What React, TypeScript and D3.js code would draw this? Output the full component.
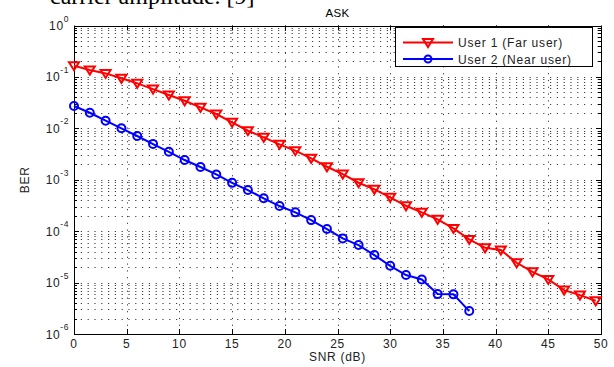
import * as d3 from "d3";

// SNR steps (dB) and BER for each user
const snrFar = [
  0, 1.5, 3, 4.5, 6, 7.5, 9, 10.5, 12, 13.5, 15, 16.5, 18, 19.5, 21, 22.5, 24,
  25.5, 27, 28.5, 30, 31.5, 33, 34.5, 36, 37.5, 39, 40.5, 42, 43.5, 45, 46.5,
  48, 49.5,
];
const berFar = [
  0.165, 0.136, 0.117, 0.094, 0.075, 0.058, 0.0445, 0.0344, 0.0256, 0.019,
  0.0131, 0.00898, 0.00668, 0.00488, 0.00367, 0.00261, 0.00179, 0.00129,
  0.000875, 0.00065, 0.000455, 0.000312, 0.000232, 0.00017, 0.000113, 6.92e-5,
  4.75e-5, 4.29e-5, 2.43e-5, 1.62e-5, 1.15e-5, 7.14e-6, 5.71e-6, 4.42e-6,
];
const snrNear = [
  0, 1.5, 3, 4.5, 6, 7.5, 9, 10.5, 12, 13.5, 15, 16.5, 18, 19.5, 21, 22.5, 24,
  25.5, 27, 28.5, 30, 31.5, 33, 34.5, 36, 37.5,
];
const berNear = [
  0.0272, 0.0201, 0.0141, 0.01, 0.0071, 0.00495, 0.0035, 0.00242, 0.00177,
  0.00127, 0.00087, 0.00063, 0.000435, 0.000308, 0.000232, 0.000164, 0.00011,
  7.24e-5, 5.37e-5, 3.43e-5, 2.12e-5, 1.4e-5, 1.15e-5, 5.97e-6, 5.9e-6, 2.79e-6,
];

const xTicks = [0, 5, 10, 15, 20, 25, 30, 35, 40, 45, 50];
const yExponents = [0, -1, -2, -3, -4, -5, -6];
const legendLabels = ["User 1 (Far user)", "User 2 (Near user)"];

const W = 614;
const H = 367;
const left = 74;
const right = 601;
const top = 25.5;
const bottom = 334;

const font = "'Liberation Sans', Arial, sans-serif";
const dots = "1.2,5.6";

function tri(cx: number, cy: number) {
  return `M${cx - 5},${cy - 3.5} L${cx + 5},${cy - 3.5} L${cx},${cy + 4.5} Z`;
}

export default function App() {
  const x = d3.scaleLinear().domain([0, 50]).range([left, right]);
  const y = d3.scaleLog().domain([1e-6, 1]).range([bottom, top]);

  const far = snrFar.map((s, i) => [x(s), y(berFar[i])] as [number, number]);
  const near = snrNear.map((s, i) => [x(s), y(berNear[i])] as [number, number]);
  const line = d3.line();

  // minor log positions 2..9 in each decade
  const minor: number[] = [];
  for (let e = -6; e < 0; e++) {
    for (let m = 2; m <= 9; m++) minor.push(m * Math.pow(10, e));
  }

  return (
    <svg
      width={W}
      height={H}
      style={{ position: "absolute", left: 0, top: 0, background: "#fff" }}
      fontFamily={font}
    >
      {/* cut-off caption from the page above */}
      <text x={50} y={4} fontFamily="'Liberation Serif', 'Times New Roman', serif" fontSize={24}>
        carrier amplitude. [9]
      </text>

      <text x={(left + right) / 2} y={17} textAnchor="middle" fontSize={11.5} letterSpacing={0.3}>
        ASK
      </text>

      {/* grid */}
      <g stroke="#000" strokeWidth={1} strokeDasharray={dots} opacity={0.75}>
        {xTicks.slice(1, -1).map((t) => (
          <line key={"gx" + t} x1={Math.round(x(t)) + 0.5} x2={Math.round(x(t)) + 0.5} y1={top} y2={bottom} />
        ))}
        {yExponents.slice(1, -1).map((e) => (
          <line key={"gy" + e} x1={left} x2={right} y1={Math.round(y(Math.pow(10, e))) + 0.5} y2={Math.round(y(Math.pow(10, e))) + 0.5} />
        ))}
        {minor.map((v) => (
          <line key={"gm" + v} x1={left} x2={right} y1={Math.round(y(v)) + 0.5} y2={Math.round(y(v)) + 0.5} />
        ))}
      </g>

      {/* ticks */}
      <g stroke="#000" strokeWidth={1}>
        {xTicks.map((t) => {
          const px = Math.round(x(t)) + 0.5;
          return (
            <g key={"tx" + t}>
              <line x1={px} x2={px} y1={bottom} y2={bottom - 5} />
              <line x1={px} x2={px} y1={top} y2={top + 5} />
            </g>
          );
        })}
        {yExponents.map((e) => {
          const py = Math.round(y(Math.pow(10, e))) + 0.5;
          return (
            <g key={"ty" + e}>
              <line x1={left} x2={left + 5} y1={py} y2={py} />
              <line x1={right} x2={right - 5} y1={py} y2={py} />
            </g>
          );
        })}
        {minor.map((v) => {
          const py = Math.round(y(v)) + 0.5;
          return (
            <g key={"tm" + v}>
              <line x1={left} x2={left + 3} y1={py} y2={py} />
              <line x1={right} x2={right - 3} y1={py} y2={py} />
            </g>
          );
        })}
      </g>

      {/* axes box */}
      <rect
        x={left + 0.5}
        y={Math.round(top) + 0.5}
        width={right - left}
        height={bottom - Math.round(top)}
        fill="none"
        stroke="#000"
        strokeWidth={1}
      />

      {/* tick labels */}
      <g fontSize={12} fill="#222" letterSpacing={0.6}>
        {xTicks.map((t) => (
          <text key={"lx" + t} x={x(t)} y={348} textAnchor="middle">
            {t}
          </text>
        ))}
        {yExponents.map((e) => (
          <text key={"ly" + e} x={69} y={y(Math.pow(10, e)) + 4.5} textAnchor="end">
            10
            <tspan dy={-8.5} fontSize={8.5}>
              {e}
            </tspan>
          </text>
        ))}
      </g>

      <text x={(left + right) / 2} y={361} textAnchor="middle" fontSize={12} fill="#222" letterSpacing={0.7}>
        SNR (dB)
      </text>
      <text
        transform={`translate(29,${(top + bottom) / 2}) rotate(-90)`}
        textAnchor="middle"
        fontSize={12}
        fill="#222"
        letterSpacing={0.7}
      >
        BER
      </text>

      {/* series */}
      <path d={line(far) ?? ""} fill="none" stroke="#ff0000" strokeWidth={2} />
      {far.map(([cx, cy], i) => (
        <path key={"mf" + i} d={tri(cx, cy)} fill="none" stroke="#ff0000" strokeWidth={2} />
      ))}
      <path d={line(near) ?? ""} fill="none" stroke="#0000ff" strokeWidth={2} />
      {near.map(([cx, cy], i) => (
        <circle key={"mn" + i} cx={cx} cy={cy} r={4} fill="none" stroke="#0000ff" strokeWidth={2} />
      ))}

      {/* legend */}
      <g>
        <rect x={395.5} y={27.5} width={197} height={39} fill="#fff" stroke="#000" strokeWidth={1} />
        <line x1={403} x2={453} y1={42.5} y2={42.5} stroke="#ff0000" strokeWidth={2} />
        <path d={tri(428, 42.5)} fill="none" stroke="#ff0000" strokeWidth={2} />
        <line x1={403} x2={453} y1={59} y2={59} stroke="#0000ff" strokeWidth={2} />
        <circle cx={428} cy={59} r={3.5} fill="none" stroke="#0000ff" strokeWidth={2} />
        <text x={458} y={47} fontSize={12} fill="#222" letterSpacing={0.8}>
          {legendLabels[0]}
        </text>
        <text x={458} y={63.5} fontSize={12} fill="#222" letterSpacing={0.8}>
          {legendLabels[1]}
        </text>
      </g>
    </svg>
  );
}
